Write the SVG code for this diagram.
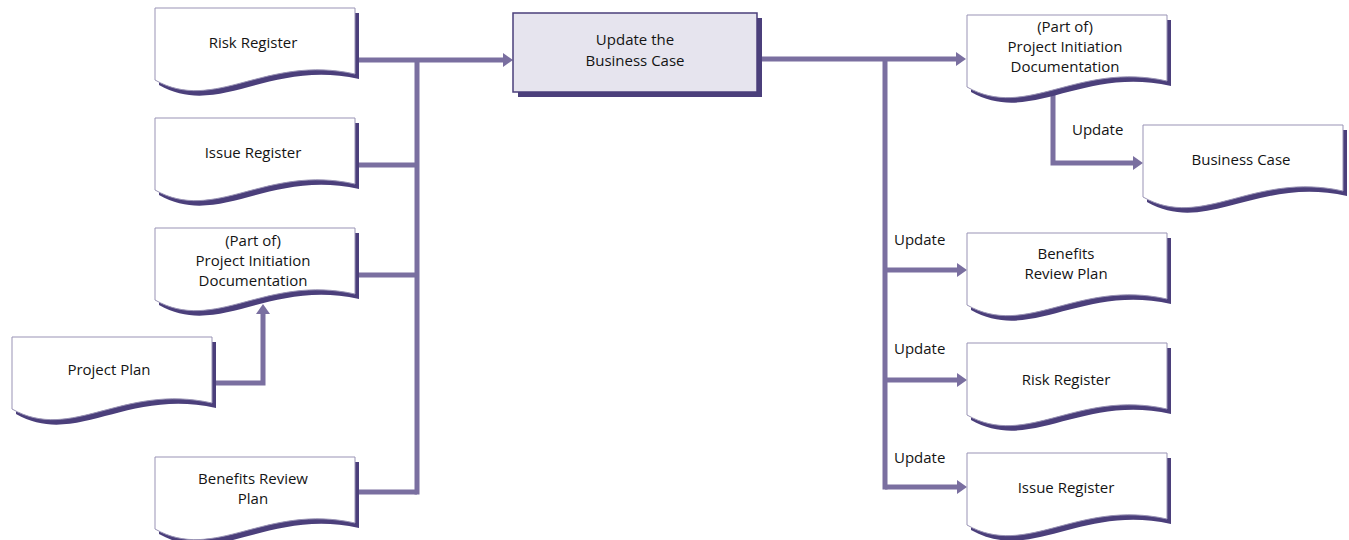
<svg xmlns="http://www.w3.org/2000/svg" xmlns:xlink="http://www.w3.org/1999/xlink" width="1349" height="540" viewBox="0 0 1349 540">
  <style>
    .shadow { fill: #4b3f7b; }
    .paper { fill: #ffffff; stroke: #9993b5; stroke-width: 1; }
    .box { fill: #e6e4ee; stroke: #4b3f7b; stroke-width: 1.5; }
    .label { font-family: "Open Sans", "Liberation Sans", sans-serif; font-size: 15px; fill: #141414; text-anchor: middle; }
    .note { font-family: "Open Sans", "Liberation Sans", sans-serif; font-size: 15px; fill: #141414; }
    .flow { fill: none; stroke: #7a6fa0; stroke-width: 5; marker-end: url(#arrow); }
    .link { fill: none; stroke: #7a6fa0; stroke-width: 5; }
  </style>
  <defs>
    <!-- document symbol: flat top, wavy bottom edge, 200 wide -->
    <path id="doc" d="M0,0 H200 V66 C110,46 60,106 0,72 Z"/>
    <marker id="arrow" viewBox="0 0 10 14" refX="1" refY="7" markerWidth="10" markerHeight="14" markerUnits="userSpaceOnUse" orient="auto">
      <path d="M0,0 L10,7 L0,14 Z" fill="#7a6fa0"/>
    </marker>
  </defs>

  <!-- connectors -->
  <g id="connectors">
    <path class="flow" d="M359,60 H504"/>
    <path class="link" d="M417,60 V494.5"/>
    <path class="link" d="M359,165 H417"/>
    <path class="link" d="M359,275 H417"/>
    <path class="link" d="M359,492 H417"/>
    <path class="flow" d="M216,383 H263 V313"/>
    <path class="flow" d="M762,59 H957"/>
    <path class="link" d="M885,59 V489.5"/>
    <path class="flow" d="M885,270 H958"/>
    <path class="flow" d="M885,380 H958"/>
    <path class="flow" d="M885,487 H958"/>
    <path class="flow" d="M1053,92 V163 H1134"/>
    <text class="note" x="1072" y="135">Update</text>
    <text class="note" x="894" y="245">Update</text>
    <text class="note" x="894" y="354">Update</text>
    <text class="note" x="894" y="463">Update</text>
  </g>

  <!-- inputs -->
  <g id="in-risk-register">
    <use xlink:href="#doc" class="shadow" x="159" y="13"/>
    <use xlink:href="#doc" class="paper" x="155" y="8"/>
    <text class="label" x="253" y="48">Risk Register</text>
  </g>
  <g id="in-issue-register">
    <use xlink:href="#doc" class="shadow" x="159" y="123"/>
    <use xlink:href="#doc" class="paper" x="155" y="118"/>
    <text class="label" x="253" y="158">Issue Register</text>
  </g>
  <g id="in-pid">
    <use xlink:href="#doc" class="shadow" x="159" y="233"/>
    <use xlink:href="#doc" class="paper" x="155" y="228"/>
    <text class="label" x="253" y="246">(Part of)</text>
    <text class="label" x="253" y="266">Project Initiation</text>
    <text class="label" x="253" y="286">Documentation</text>
  </g>
  <g id="in-project-plan">
    <use xlink:href="#doc" class="shadow" x="16" y="342"/>
    <use xlink:href="#doc" class="paper" x="12" y="337"/>
    <text class="label" x="109" y="375">Project Plan</text>
  </g>
  <g id="in-benefits-review-plan">
    <use xlink:href="#doc" class="shadow" x="159" y="462"/>
    <use xlink:href="#doc" class="paper" x="155" y="457"/>
    <text class="label" x="253" y="484">Benefits Review</text>
    <text class="label" x="253" y="504">Plan</text>
  </g>

  <!-- activity -->
  <g id="activity">
    <rect x="518" y="18" width="244" height="79" class="shadow"/>
    <rect x="513" y="13" width="244" height="79" class="box"/>
    <text class="label" x="635" y="45">Update the</text>
    <text class="label" x="635" y="66">Business Case</text>
  </g>

  <!-- outputs -->
  <g id="out-pid">
    <use xlink:href="#doc" class="shadow" x="971" y="20"/>
    <use xlink:href="#doc" class="paper" x="967" y="15"/>
    <text class="label" x="1065" y="32">(Part of)</text>
    <text class="label" x="1065" y="52">Project Initiation</text>
    <text class="label" x="1065" y="72">Documentation</text>
  </g>
  <g id="out-business-case">
    <use xlink:href="#doc" class="shadow" x="1147" y="130"/>
    <use xlink:href="#doc" class="paper" x="1143" y="125"/>
    <text class="label" x="1241" y="165">Business Case</text>
  </g>
  <g id="out-benefits-review-plan">
    <use xlink:href="#doc" class="shadow" x="971" y="238"/>
    <use xlink:href="#doc" class="paper" x="967" y="233"/>
    <text class="label" x="1066" y="259">Benefits</text>
    <text class="label" x="1066" y="279">Review Plan</text>
  </g>
  <g id="out-risk-register">
    <use xlink:href="#doc" class="shadow" x="971" y="348"/>
    <use xlink:href="#doc" class="paper" x="967" y="343"/>
    <text class="label" x="1066" y="385">Risk Register</text>
  </g>
  <g id="out-issue-register">
    <use xlink:href="#doc" class="shadow" x="971" y="458"/>
    <use xlink:href="#doc" class="paper" x="967" y="453"/>
    <text class="label" x="1066" y="493">Issue Register</text>
  </g>
</svg>
